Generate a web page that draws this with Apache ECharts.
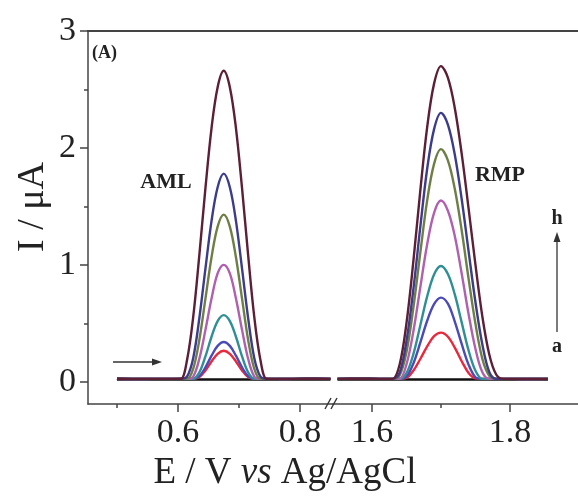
<!DOCTYPE html>
<html>
<head>
<meta charset="utf-8">
<script src="https://cdn.jsdelivr.net/npm/echarts@6/dist/echarts.min.js"></script>
<style>html,body{margin:0;padding:0;background:#fff}#c{width:578px;height:497px}</style>
</head>
<body>
<div id="c"></div>
<script>
// ---- data ----
const xLeft = [0.50,0.54,0.58,0.595,0.605,0.615,0.625,0.635,0.645,0.655,0.665,0.675,0.685,0.695,0.705,0.715,0.725,0.735,0.745,0.755,0.77,0.81,0.85];
const xRight = [1.55,1.58,1.61,1.62,1.63,1.64,1.65,1.66,1.67,1.68,1.69,1.70,1.71,1.72,1.73,1.74,1.75,1.76,1.77,1.78,1.79,1.82,1.855];

const seriesNames = ['a','b','c','d','e','f','g','h'];
const seriesColors = ['#111111','#e8283c','#4a4ab8','#2f8f95','#b060b0','#6e7f45','#3c3c8c','#5c1f35'];

// AML peak (left segment)
const aLeft = [0.02,0.02,0.02,0.02,0.02,0.02,0.02,0.02,0.02,0.02,0.02,0.02,0.02,0.02,0.02,0.02,0.02,0.02,0.02,0.02,0.02,0.02,0.02];
const bLeft = [0.026,0.024,0.025,0.025,0.025,0.025,0.025,0.040,0.097,0.174,0.239,0.265,0.239,0.174,0.097,0.040,0.025,0.025,0.025,0.025,0.024,0.026,0.025];
const cLeft = [0.026,0.024,0.025,0.025,0.025,0.025,0.025,0.048,0.123,0.223,0.307,0.340,0.307,0.223,0.123,0.048,0.025,0.025,0.025,0.025,0.024,0.026,0.025];
const dLeft = [0.026,0.024,0.025,0.025,0.025,0.025,0.025,0.080,0.217,0.385,0.519,0.570,0.519,0.385,0.217,0.080,0.025,0.025,0.025,0.025,0.024,0.026,0.025];
const eLeft = [0.026,0.024,0.025,0.025,0.025,0.025,0.045,0.197,0.444,0.712,0.927,1.000,0.927,0.712,0.444,0.197,0.045,0.025,0.025,0.025,0.024,0.026,0.025];
const fLeft = [0.026,0.024,0.025,0.025,0.025,0.025,0.112,0.358,0.711,1.065,1.327,1.430,1.327,1.065,0.711,0.358,0.112,0.025,0.025,0.025,0.024,0.026,0.025];
const gLeft = [0.026,0.024,0.025,0.025,0.025,0.046,0.204,0.544,0.967,1.376,1.664,1.780,1.664,1.376,0.967,0.544,0.204,0.046,0.025,0.025,0.024,0.026,0.025];
const hLeft = [0.026,0.024,0.025,0.025,0.026,0.191,0.557,1.084,1.656,2.170,2.520,2.660,2.520,2.170,1.656,1.084,0.557,0.191,0.026,0.025,0.024,0.026,0.025];

// RMP peak (right segment)
const aRight = [0.02,0.02,0.02,0.02,0.02,0.02,0.02,0.02,0.02,0.02,0.02,0.02,0.02,0.02,0.02,0.02,0.02,0.02,0.02,0.02,0.02,0.02,0.02];
const bRight = [0.025,0.026,0.025,0.025,0.025,0.025,0.033,0.095,0.195,0.303,0.390,0.420,0.385,0.292,0.176,0.076,0.029,0.025,0.025,0.025,0.025,0.024,0.025];
const cRight = [0.025,0.026,0.025,0.025,0.025,0.025,0.045,0.157,0.334,0.522,0.664,0.720,0.668,0.515,0.324,0.147,0.039,0.025,0.025,0.025,0.025,0.024,0.025];
const dRight = [0.025,0.026,0.025,0.025,0.025,0.025,0.074,0.237,0.482,0.730,0.918,0.990,0.921,0.747,0.508,0.268,0.094,0.025,0.025,0.025,0.025,0.024,0.025];
const eRight = [0.025,0.026,0.025,0.025,0.025,0.026,0.149,0.432,0.806,1.176,1.445,1.550,1.463,1.247,0.926,0.580,0.280,0.081,0.025,0.025,0.025,0.024,0.025];
const fRight = [0.025,0.026,0.025,0.025,0.025,0.054,0.253,0.634,1.102,1.552,1.864,1.990,1.894,1.650,1.296,0.882,0.495,0.196,0.051,0.025,0.025,0.024,0.025];
const gRight = [0.025,0.026,0.025,0.025,0.025,0.075,0.348,0.792,1.322,1.822,2.161,2.300,2.200,1.943,1.563,1.117,0.680,0.318,0.084,0.025,0.025,0.024,0.025];
const hRight = [0.025,0.026,0.025,0.025,0.025,0.145,0.501,1.031,1.633,2.178,2.550,2.700,2.601,2.342,1.951,1.483,0.999,0.557,0.234,0.062,0.025,0.024,0.025];

const leftValues = [aLeft,bLeft,cLeft,dLeft,eLeft,fLeft,gLeft,hLeft];
const rightValues = [aRight,bRight,cRight,dRight,eRight,fRight,gRight,hRight];

const xMajorLeft = [0.6, 0.8];
const xMinorLeft = [0.5, 0.7];
const xMajorRight = [1.6, 1.8];
const xMinorRight = [1.7];
const yMajor = [0, 1, 2, 3];
const yMinor = [0.5, 1.5, 2.5];

// ---- chart ----
const SERIF = '"Liberation Serif","DejaVu Serif",serif';
const AX = '#444444';
const chart = echarts.init(document.getElementById('c'), null, {renderer: 'canvas'});

const series = [];
seriesNames.forEach((n, i) => {
  series.push({
    name: n + '-AML', type: 'line', xAxisIndex: 0, yAxisIndex: 0,
    data: xLeft.map((x, k) => [x, leftValues[i][k]]),
    smooth: 0.35, showSymbol: false, symbol: 'none',
    lineStyle: {color: seriesColors[i], width: 2.4}, z: 2 + i
  });
  series.push({
    name: n + '-RMP', type: 'line', xAxisIndex: 1, yAxisIndex: 1,
    data: xRight.map((x, k) => [x, rightValues[i][k]]),
    smooth: 0.35, showSymbol: false, symbol: 'none',
    lineStyle: {color: seriesColors[i], width: 2.4}, z: 2 + i
  });
});

function majorX(gi, min, max, vals) {
  return {
    type: 'value', gridIndex: gi, min: min, max: max, position: 'bottom',
    axisLine: {show: true, onZero: false, lineStyle: {color: AX, width: 1.5}},
    axisTick: {show: true, customValues: vals, length: 8, lineStyle: {color: AX, width: 1.5}},
    axisLabel: {show: true, customValues: vals, formatter: v => v.toFixed(1),
      fontFamily: SERIF, fontSize: 34, color: '#222', margin: 12},
    splitLine: {show: false}
  };
}
function minorX(gi, min, max, vals) {
  return {
    type: 'value', gridIndex: gi, min: min, max: max, position: 'bottom',
    axisLine: {show: false, onZero: false},
    axisTick: {show: true, customValues: vals, length: 4, lineStyle: {color: AX, width: 1.5}},
    axisLabel: {show: false}, splitLine: {show: false}
  };
}

const option = {
  backgroundColor: '#ffffff',
  animation: false,
  grid: [
    {left: 88, top: 31, width: 245, height: 373},
    {left: 333, top: 31, width: 245, height: 373}
  ],
  xAxis: [
    majorX(0, 0.4525, 0.8541, xMajorLeft),
    majorX(1, 1.5435, 1.8986, xMajorRight),
    minorX(0, 0.4525, 0.8541, xMinorLeft),
    minorX(1, 1.5435, 1.8986, xMinorRight)
  ],
  yAxis: [
    {
      type: 'value', gridIndex: 0, min: -0.19, max: 3, position: 'left',
      axisLine: {show: true, onZero: false, lineStyle: {color: AX, width: 1.5}},
      axisTick: {show: true, customValues: yMajor, length: 8, lineStyle: {color: AX, width: 1.5}},
      axisLabel: {show: true, customValues: yMajor, formatter: v => String(Math.round(v)),
        fontFamily: SERIF, fontSize: 34, color: '#222', margin: 12},
      splitLine: {show: false}
    },
    {
      type: 'value', gridIndex: 1, min: -0.19, max: 3, show: false
    },
    {
      type: 'value', gridIndex: 0, min: -0.19, max: 3, position: 'left',
      axisLine: {show: false, onZero: false},
      axisTick: {show: true, customValues: yMinor, length: 4, lineStyle: {color: AX, width: 1.5}},
      axisLabel: {show: false}, splitLine: {show: false}
    }
  ],
  series: series,
  graphic: [
    {type: 'rect', z: 50, shape: {x: 87, y: 30, width: 491, height: 2}, style: {fill: AX}},
    {type: 'text', x: 33, y: 207, rotation: Math.PI / 2,
      style: {text: 'I / μA', font: '38px ' + SERIF, fill: '#222', align: 'center', verticalAlign: 'middle'}},
    {type: 'text', x: 285, y: 473,
      style: {text: '{n|E / V }{i|vs}{n| Ag/AgCl}', align: 'center', verticalAlign: 'middle',
        rich: {
          n: {fontFamily: SERIF, fontSize: 37, fill: '#222', color: '#222'},
          i: {fontFamily: SERIF, fontSize: 37, fontStyle: 'italic', fill: '#222', color: '#222'}
        }}},
    {type: 'text', x: 92, y: 53,
      style: {text: '(A)', font: 'bold 18px ' + SERIF, fill: '#222', align: 'left', verticalAlign: 'middle'}},
    {type: 'text', x: 166, y: 182,
      style: {text: 'AML', font: 'bold 22px ' + SERIF, fill: '#222', align: 'center', verticalAlign: 'middle'}},
    {type: 'text', x: 500, y: 175,
      style: {text: 'RMP', font: 'bold 22px ' + SERIF, fill: '#222', align: 'center', verticalAlign: 'middle'}},
    {type: 'text', x: 557, y: 219,
      style: {text: 'h', font: 'bold 20px ' + SERIF, fill: '#222', align: 'center', verticalAlign: 'middle'}},
    {type: 'text', x: 557, y: 347,
      style: {text: 'a', font: 'bold 20px ' + SERIF, fill: '#222', align: 'center', verticalAlign: 'middle'}},
    {type: 'line', shape: {x1: 557, y1: 332, x2: 557, y2: 240}, style: {stroke: '#333', lineWidth: 1.3}},
    {type: 'polygon', shape: {points: [[557, 232], [553.5, 242], [560.5, 242]]}, style: {fill: '#333'}},
    {type: 'line', shape: {x1: 113, y1: 362, x2: 154, y2: 362}, style: {stroke: '#333', lineWidth: 1.3}},
    {type: 'polygon', shape: {points: [[162, 362], [152, 358.5], [152, 365.5]]}, style: {fill: '#333'}},
    {type: 'line', shape: {x1: 325, y1: 409, x2: 331, y2: 398}, style: {stroke: '#333', lineWidth: 1.4}, z: 100},
    {type: 'line', shape: {x1: 331, y1: 409, x2: 337, y2: 398}, style: {stroke: '#333', lineWidth: 1.4}, z: 100}
  ]
};
chart.setOption(option);
</script>
</body>
</html>
